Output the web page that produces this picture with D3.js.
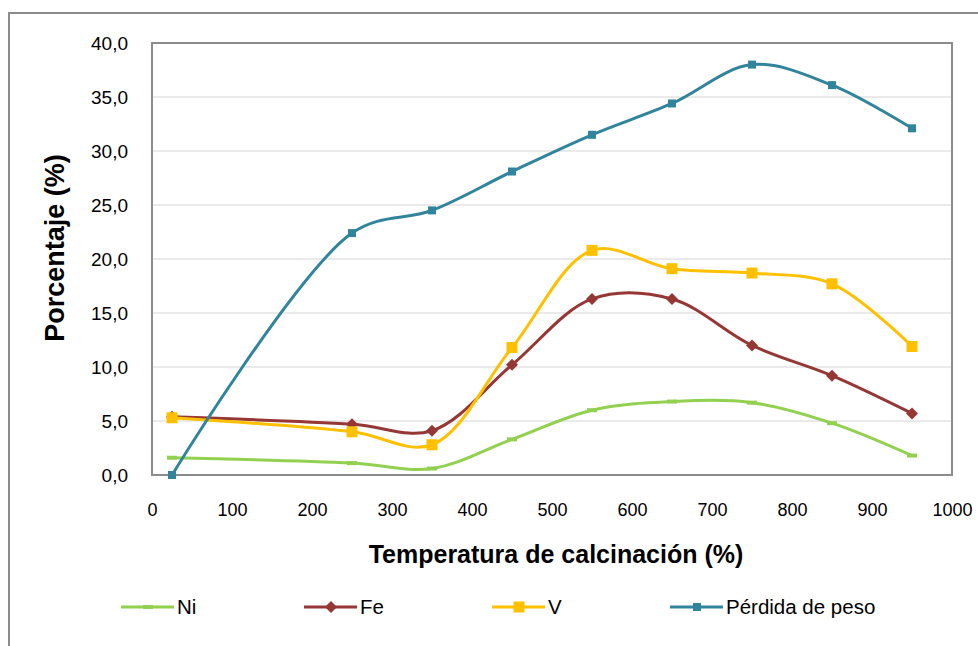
<!DOCTYPE html>
<html>
<head>
<meta charset="utf-8">
<script src="https://cdn.jsdelivr.net/npm/d3@7"></script>
<style>
  body { margin: 0; background: #fff; }
  text { font-family: "Liberation Sans", Arial, sans-serif; fill: #000; }
</style>
</head>
<body>
<svg id="chart"></svg>
<script>
// data
var temps = [25, 250, 350, 450, 550, 650, 750, 850, 950];
var ni = [1.6, 1.1, 0.6, 3.3, 6.0, 6.8, 6.7, 4.8, 1.8];
var fe = [5.4, 4.7, 4.1, 10.2, 16.3, 16.3, 12.0, 9.2, 5.7];
var v = [5.3, 4.0, 2.8, 11.8, 20.8, 19.1, 18.7, 17.7, 11.9];
var perdida = [0.0, 22.4, 24.5, 28.1, 31.5, 34.4, 38.0, 36.1, 32.1];
var xTicks = [0, 100, 200, 300, 400, 500, 600, 700, 800, 900, 1000];
var yTicks = [0, 5, 10, 15, 20, 25, 30, 35, 40];

var series = [
  {name: "Ni", values: ni, color: "#92D050", marker: "dash"},
  {name: "Fe", values: fe, color: "#953735", marker: "diamond"},
  {name: "V", values: v, color: "#FFC000", marker: "bigsquare"},
  {name: "Pérdida de peso", values: perdida, color: "#31849B", marker: "square"}
];

var W = 978, H = 646;
var margin = {top: 43, right: 26, bottom: 171, left: 152};

var svg = d3.select("#chart").attr("width", W).attr("height", H);

// outer chart frame
svg.append("rect")
    .attr("x", 9).attr("y", 13)
    .attr("width", 1000).attr("height", 700)
    .attr("fill", "none").attr("stroke", "#8c8c8c").attr("stroke-width", 2);

var x = d3.scaleLinear().domain([0, 1000]).range([margin.left, W - margin.right]);
var y = d3.scaleLinear().domain([0, 40]).range([H - margin.bottom, margin.top]);

// gridlines
svg.append("g")
  .selectAll("line")
  .data(yTicks.slice(1, -1))
  .join("line")
    .attr("x1", x(0)).attr("x2", x(1000))
    .attr("y1", function(d) { return y(d); })
    .attr("y2", function(d) { return y(d); })
    .attr("stroke", "#e3e3e3").attr("stroke-width", 1.5);

// plot frame
svg.append("rect")
    .attr("x", x(0)).attr("y", y(40))
    .attr("width", x(1000) - x(0)).attr("height", y(0) - y(40))
    .attr("fill", "none").attr("stroke", "#8c8c8c").attr("stroke-width", 2);

// axes
var fmt = function(d) { return d3.format(".1f")(d).replace(".", ","); };

svg.append("g")
    .attr("transform", "translate(" + x(0) + ",0)")
    .call(d3.axisLeft(y).tickValues(yTicks).tickFormat(fmt).tickSize(0).tickPadding(24))
    .call(function(g) { g.select(".domain").remove(); })
    .selectAll("text").attr("font-size", 19).attr("font-family", "Liberation Sans, Arial, sans-serif");

svg.append("g")
    .attr("transform", "translate(0," + y(0) + ")")
    .call(d3.axisBottom(x).tickValues(xTicks).tickFormat(d3.format("d")).tickSize(0).tickPadding(28))
    .call(function(g) { g.select(".domain").remove(); })
    .selectAll("text").attr("font-size", 18).attr("font-family", "Liberation Sans, Arial, sans-serif");

// axis titles
svg.append("text")
    .attr("x", 556).attr("y", 563)
    .attr("text-anchor", "middle")
    .attr("font-size", 25).attr("font-weight", "bold")
    .text("Temperatura de calcinación (%)");

svg.append("text")
    .attr("transform", "translate(64,248) rotate(-90)")
    .attr("text-anchor", "middle")
    .attr("font-size", 27).attr("font-weight", "bold")
    .text("Porcentaje (%)");

var line = d3.line()
    .curve(d3.curveCatmullRom.alpha(0.5))
    .x(function(d, i) { return x(temps[i]); })
    .y(function(d) { return y(d); });

function drawMarker(g, type, color) {
  if (type === "dash") {
    g.append("rect").attr("x", -5).attr("y", -2).attr("width", 10).attr("height", 4).attr("fill", color);
  } else if (type === "diamond") {
    g.append("path").attr("d", "M0,-6L6,0L0,6L-6,0Z").attr("fill", color);
  } else if (type === "bigsquare") {
    g.append("rect").attr("x", -5.5).attr("y", -5.5).attr("width", 11).attr("height", 11).attr("fill", color);
  } else {
    g.append("rect").attr("x", -4).attr("y", -4).attr("width", 8).attr("height", 8).attr("fill", color);
  }
}

series.forEach(function(s) {
  svg.append("path")
      .datum(s.values)
      .attr("d", line)
      .attr("fill", "none")
      .attr("stroke", s.color)
      .attr("stroke-width", 3);
  s.values.forEach(function(val, i) {
    var g = svg.append("g").attr("transform", "translate(" + x(temps[i]) + "," + y(val) + ")");
    drawMarker(g, s.marker, s.color);
  });
});

// legend
var legendX = [121, 304, 492, 670];
var legend = svg.append("g");
series.forEach(function(s, i) {
  var g = legend.append("g").attr("transform", "translate(" + legendX[i] + ",607)");
  g.append("line").attr("x1", 0).attr("x2", 53).attr("stroke", s.color).attr("stroke-width", 3);
  var m = g.append("g").attr("transform", "translate(27,0)");
  drawMarker(m, s.marker, s.color);
  g.append("text").attr("x", 56).attr("y", 7).attr("font-size", 20.5).text(s.name);
});
</script>
</body>
</html>
